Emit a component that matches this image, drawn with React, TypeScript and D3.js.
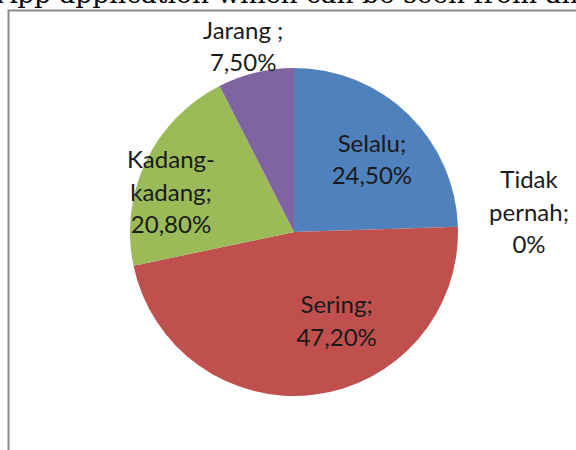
import React from 'react';
import * as d3 from 'd3';

/* slices, clockwise from 12 o'clock */
const categories = ['Selalu', 'Sering', 'Kadang-kadang', 'Jarang', 'Tidak pernah'];
const values = [24.5, 47.2, 20.8, 7.5, 0];
const valueLabels = ['24,50%', '47,20%', '20,80%', '7,50%', '0%'];
/* how the label text is broken into lines */
const labelLines = [
    ['Selalu;', '24,50%'],
    ['Sering;', '47,20%'],
    ['Kadang-', 'kadang;', '20,80%'],
    ['Jarang ;', '7,50%'],
    ['Tidak', 'pernah;', '0%'],
];
const colors = ['#4F81BD', '#C0504D', '#9BBB59', '#8064A2', '#4BACC6'];

const W = 576;
const H = 450;
const cx = 294;
const cy = 232;
const r = 164;
const lineH = 32.5;
/* label anchor (first baseline) relative to the centre, in radius units */
const labelOffsets: [number, number][] = [
    [0.475, -0.49],
    [0.26, 0.495],
    [-0.75, -0.39],
    [-0.31, -1.177],
    [1.433, -0.268],
];

export default function App() {
    const pie = d3.pie<number>().sort(null).value(d => d);
    const arcs = pie(values);
    const arc = d3.arc<d3.PieArcDatum<number>>().innerRadius(0).outerRadius(r);

    return (
        <svg width={W} height={H} style={{ position: 'absolute', left: 0, top: 0, background: '#fff' }}>
            {/* heading of the surrounding page, cut by the crop */}
            <text x={-2} y={3} fontFamily="'DejaVu Serif', serif" fontSize={26.5} fill="#000">
                App application which can be seen from an
            </text>
            {/* chart area border */}
            <path d={`M8.5,${H} V10.5 H${W}`} fill="none" stroke="#8c8c8c" strokeWidth={2} />
            <g transform={`translate(${cx},${cy})`}>
                {arcs.map((a, i) => (
                    <path key={categories[i]} d={arc(a) || ''} fill={colors[i]} />
                ))}
                {arcs.map((a, i) => (
                    <text
                        key={'l' + i}
                        x={labelOffsets[i][0] * r}
                        y={labelOffsets[i][1] * r}
                        textAnchor="middle"
                        fontFamily="Lato, 'Noto Sans', sans-serif"
                        fontSize={24}
                        fill="#1a1a1a"
                        data-value={valueLabels[i]}
                    >
                        {labelLines[i].map((t, j) => (
                            <tspan key={j} x={labelOffsets[i][0] * r} dy={j === 0 ? 0 : lineH}>{t}</tspan>
                        ))}
                    </text>
                ))}
            </g>
        </svg>
    );
}
